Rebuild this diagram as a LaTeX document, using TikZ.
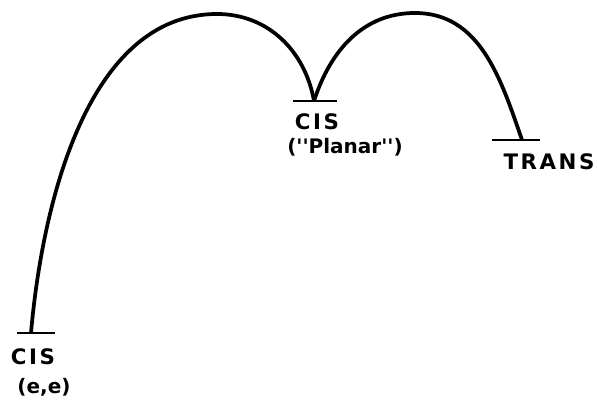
\documentclass[tikz,border=0pt]{standalone}
\usepackage{fontspec}
\newfontfamily\labelfont[LetterSpace=12]{DejaVu Sans}
\newfontfamily\notefont{DejaVu Sans}
\usepackage{tikz}

\tikzset{
  arch/.style={line width=2.8pt},
  bar/.style={line width=2pt},
  lbl/.style={font=\labelfont\bfseries\fontsize{16}{18}\selectfont, inner sep=0pt},
  note/.style={font=\notefont\bfseries\fontsize{15}{17}\selectfont, inner sep=0pt}
}

\begin{document}
\begin{tikzpicture}[x=0.75pt, y=0.75pt]
  \useasboundingbox (0,0) rectangle (597,400);

  % Define the three conformations and the two barrier tops
  \coordinate (CisEE) at (31,67);
  \coordinate (CisPlanar) at (314,299);
  \coordinate (Trans) at (522,260);
  \coordinate (TopA) at (217,386);
  \coordinate (TopB) at (415,387);

  % Draw the energy levels
  \draw[bar] (17,67) -- (55,67);
  \draw[bar] (293,299) -- (337,299);
  \draw[bar] (492,260) -- (540,260);

  % Draw the two barriers
  \draw[arch] (CisEE) to[out=85, in=180, looseness=0.9] (TopA) to[out=0, in=100] (CisPlanar);
  \draw[arch] (CisPlanar) to[out=72, in=180] (TopB) to[out=0, in=109] (Trans);

  % Label the levels
  \node[lbl] (labCisEE) at (33,43) {CIS};
  \node[note] (labEE) at (44,13) {(e,e)};
  \node[lbl] (labCisP) at (317,278) {CIS};
  \node[note] (labPlanar) at (345,253) {(''Planar'')};
  \node[lbl] (labTrans) at (549,238) {TRANS};
\end{tikzpicture}
\end{document}
